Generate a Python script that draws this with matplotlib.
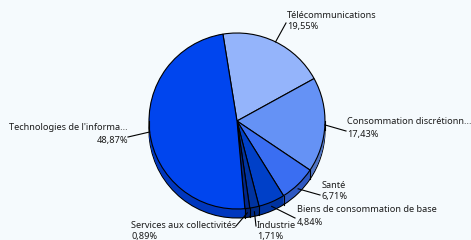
import numpy as np
import matplotlib
matplotlib.use("Agg")
import matplotlib.pyplot as plt
from matplotlib.colors import to_rgb

categories = ["Télécommunications", "Consommation discrétionn...", "Santé",
              "Biens de consommation de base", "Industrie",
              "Services aux collectivités", "Technologies de l'informa..."]
values = [19.55, 17.43, 6.71, 4.84, 1.71, 0.89, 48.87]
pct_labels = ["19,55%", "17,43%", "6,71%", "4,84%", "1,71%", "0,89%", "48,87%"]
colors = ["#94b4fb", "#6592f5", "#3a6ef2", "#0040c8", "#0033a0", "#00268a", "#0045ee"]

# layout (image pixel coords, y down)
W, H = 471, 240
cx, cy_img, R = 237, 121, 88
depth = 9
start = 99.2
bg = "#f5fafd"
# text anchor (x, y of name line center, ha) and leader line end (x, y)
text_pos = [(287, 15, "left"), (347, 122, "left"), (322, 185, "left"),
            (297, 210, "left"), (257, 225, "left"), (131, 225, "left"),
            (128, 128, "right")]
line_end = [(286, 23), (346, 131), (320, 195), (295, 218), (256, 226),
            (236, 226), (128, 137)]

plt.rcParams['font.family'] = ['Noto Sans', 'DejaVu Sans']
fig = plt.figure(figsize=(W / 100, H / 100), dpi=100, facecolor=bg)
ax = fig.add_axes([0, 0, 1, 1])
ax.set_facecolor(bg)
cy = H - cy_img

dark = [tuple(c * 0.8 for c in to_rgb(col)) for col in colors]

for i in range(depth, 0, -1):
    ec = "black" if i == depth else "none"
    ax.pie(values, colors=dark, startangle=start, counterclock=False,
           center=(cx, cy - i), radius=R,
           wedgeprops=dict(edgecolor=ec, linewidth=0.8), frame=True)
ax.pie(values, colors=colors, startangle=start, counterclock=False,
       center=(cx, cy), radius=R,
       wedgeprops=dict(edgecolor="black", linewidth=0.8), frame=True)

fr = np.cumsum([0] + values) / 100.0
angles = start - 360 * fr
for a in list(angles) + [180, 0]:
    t = np.deg2rad(a)
    if np.sin(t) < 0 or a in (180, 0):
        x = cx + R * np.cos(t)
        y = cy + R * np.sin(t)
        ax.plot([x, x], [y, y - depth], color="black", lw=0.8)

mids = (angles[:-1] + angles[1:]) / 2
for k, (name, pct) in enumerate(zip(categories, pct_labels)):
    t = np.deg2rad(mids[k])
    sx = cx + R * np.cos(t)
    sy = cy + R * np.sin(t)
    if np.sin(t) < -0.3:
        sy -= depth * 0.5
    ex, ey = line_end[k]
    ax.plot([sx, ex], [sy, H - ey], color="black", lw=0.8)
    tx, ty, ha = text_pos[k]
    ax.text(tx, H - ty, name, ha=ha, va="center", fontsize=6.6, color="#1a1a1a")
    ax.text(tx, H - ty - 12, pct, ha=ha, va="center", fontsize=6.6, color="#1a1a1a")

ax.set_xlim(0, W)
ax.set_ylim(0, H)
ax.set_aspect("equal")
ax.axis("off")
fig.savefig("out.png", dpi=100, facecolor=bg)
